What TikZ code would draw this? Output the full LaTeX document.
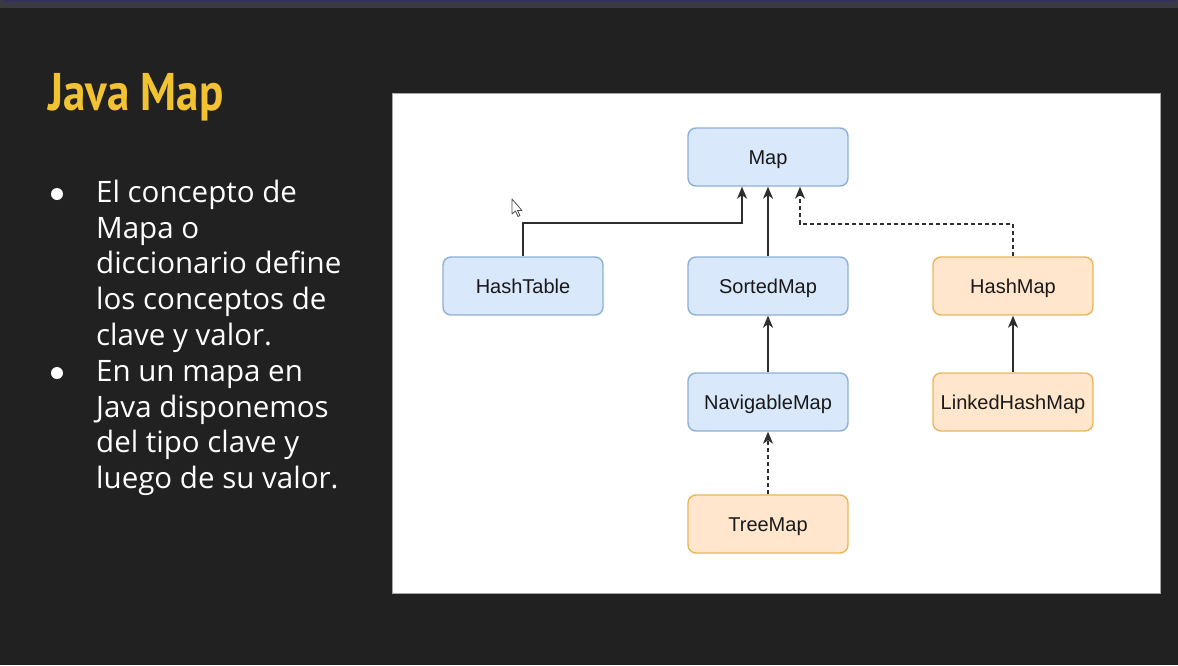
\documentclass[tikz,border=0pt]{standalone}
\usepackage{fontspec}
\setmainfont{Open Sans}
\newfontfamily\titlefont{PT Sans}[FakeStretch=0.85]
\newfontfamily\boxfont{Liberation Sans}
\usetikzlibrary{arrows.meta,positioning}

\definecolor{slidebg}{HTML}{212121}
\definecolor{barbg}{HTML}{3A3B42}
\definecolor{titleyellow}{HTML}{F1C232}
\definecolor{ifill}{HTML}{DAE8FC}
\definecolor{iline}{HTML}{8DB0D6}
\definecolor{cfill}{HTML}{FFE6CC}
\definecolor{cline}{HTML}{EBB55A}
\definecolor{arrowgray}{HTML}{2E2E2E}

\begin{document}
\begin{tikzpicture}[x=1pt,y=-1pt,
    line/.style={font=\fontsize{29.5}{34}\selectfont, text=white, anchor=base west, inner sep=0},
    dot/.style={circle, fill=white, minimum size=12pt, inner sep=0},
    box/.style={rounded corners=8pt, line width=1.4pt, minimum width=160pt, minimum height=58pt,
                inner sep=0, text height=18pt, text depth=4pt,
                font=\boxfont\fontsize{20}{24}\selectfont, text=black!90},
    iface/.style={box, draw=iline, fill=ifill},
    cls/.style={box, draw=cline, fill=cfill},
    arr/.style={draw=arrowgray, line width=1.5pt, -{Stealth[length=12pt,width=10pt,inset=3.5pt]}},
    darr/.style={arr, dash pattern=on 4pt off 3pt}]
  \useasboundingbox (0,0) rectangle (1178,665);
  \fill[slidebg] (0,0) rectangle (1178,665);
  \fill[barbg] (0,0) rectangle (1178,8);
  \fill[black!75!blue!60!gray] (3,0) rectangle (1175,1.5);

  % title and bullets
  \node[anchor=base west, inner sep=0, text=titleyellow,
        font=\titlefont\bfseries\fontsize{53}{60}\selectfont] (T) at (48,110) {Java Map};

  \node[dot] (B1) at (57,194) {};
  \node[line] (L1) at (96,202) {El concepto de};
  \node[line] (L2) at (96,238) {Mapa o};
  \node[line] (L3) at (96,273) {diccionario define};
  \node[line] (L4) at (96,309) {los conceptos de};
  \node[line] (L5) at (96,345) {clave y valor.};
  \node[dot] (B2) at (57,373) {};
  \node[line] (L6) at (96,381) {En un mapa en};
  \node[line] (L7) at (96,417) {Java disponemos};
  \node[line] (L8) at (96,452) {del tipo clave y};
  \node[line] (L9) at (96,488) {luego de su valor.};

  % diagram panel
  \filldraw[fill=white, draw=gray!70, line width=1pt] (392,93) rectangle (1160,593);

  \node[iface](M)  at (768,157) {Map};
  \node[iface](HT) at (523,286) {HashTable};
  \node[iface](SM) at (768,286) {SortedMap};
  \node[cls]  (HM) at (1013,286) {HashMap};
  \node[iface](NM) at (768,402) {NavigableMap};
  \node[cls]  (LH) at (1013,402) {LinkedHashMap};
  \node[cls]  (TM) at (768,524) {TreeMap};

  \draw[arr] (HT.north) -- (HT.north |- 0,223) -| ([xshift=-26pt]M.south);
  \draw[arr] (SM) -- (M);
  \draw[darr] (HM.north) -- (HM.north |- 0,224) -| ([xshift=32pt]M.south);
  \draw[arr] (NM) -- (SM);
  \draw[arr] (LH) -- (HM);
  \draw[darr] (TM) -- (NM);

  % mouse pointer
  \filldraw[fill=white, draw=black!70, line width=0.8pt, line join=round]
    (512,199) -- (512,214) -- (515.5,211) -- (518,216.5) -- (520,215.5) -- (517.5,210.5) -- (522,210.5) -- cycle;
\end{tikzpicture}
\end{document}
